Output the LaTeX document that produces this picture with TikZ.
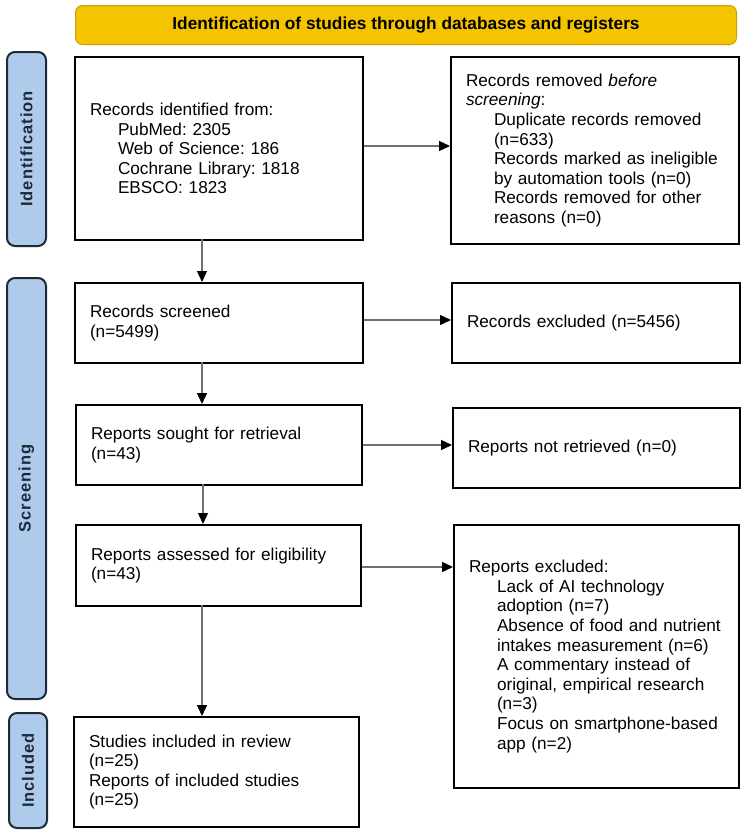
\documentclass[tikz,border=0pt]{standalone}
\usepackage{fontspec}
\setmainfont{Liberation Sans}
\usetikzlibrary{arrows.meta}
\definecolor{gold}{HTML}{F5C400}
\definecolor{goldline}{HTML}{C9A000}
\definecolor{sideblue}{HTML}{AFCBEB}
\definecolor{sideline}{HTML}{1C2A3A}
\definecolor{arrgray}{HTML}{707070}
\tikzset{
  box/.style={draw=black, line width=2pt, fill=white, anchor=north west, inner xsep=15pt, inner ysep=0pt,
    align=left, font=\fontsize{17.2}{19.6}\selectfont\frenchspacing},
  sidelab/.style={draw=sideline, line width=2pt, fill=sideblue, rounded corners=8pt, anchor=north west,
    inner sep=0pt},
  sidetxt/.style={rotate=90, text=sideline, font=\fontsize{16.5}{19}\selectfont\bfseries\addfontfeature{LetterSpace=6}},
  flow/.style={draw=arrgray, line width=1.3pt, -{Triangle[length=11pt,width=10pt,fill=black,color=black]}},
}
\newcommand{\subi}{\hspace*{28pt}}
\begin{document}
\begin{tikzpicture}[x=1pt,y=-1pt]
\useasboundingbox (0,0) rectangle (744,835);
% banner
\node[draw=goldline, line width=1pt, fill=gold, rounded corners=7pt, anchor=north west, minimum width=661pt, minimum height=39pt,
  inner sep=0pt, font=\fontsize{17.3}{19}\selectfont\bfseries] (banner) at (75,5) {Identification of studies through databases and registers};
% side labels
\node[sidelab, minimum width=39pt, minimum height=194pt] (sid) at (6,51) {};
\node[sidetxt] (sidt) at (sid.center) {Identification};
\node[sidelab, minimum width=39pt, minimum height=421pt] (sscr) at (6,277) {};
\node[sidetxt] (sscrt) at (sscr.center) {Screening};
\node[sidelab, minimum width=38pt, minimum height=115pt] (sinc) at (8,712) {};
\node[sidetxt] (sinct) at (sinc.center) {Included};
% left boxes
\node[box, minimum width=288pt, minimum height=183pt, text width=258pt] (ident) at (74,56) {Records identified from:\\
\subi PubMed: 2305\\
\subi Web of Science: 186\\
\subi Cochrane Library: 1818\\
\subi EBSCO: 1823};
\node[box, minimum width=288pt, minimum height=80pt, text width=258pt] (screen) at (74,282) {Records screened\\(n=5499)};
\node[box, minimum width=286pt, minimum height=80pt, text width=256pt] (sought) at (75,404) {Reports sought for retrieval\\(n=43)};
\node[box, minimum width=285pt, minimum height=81pt, text width=255pt] (assess) at (75,524) {Reports assessed for eligibility\\(n=43)};
\node[box, minimum width=285pt, minimum height=110pt, text width=255pt] (incl) at (73,716) {Studies included in review\\(n=25)\\Reports of included studies\\(n=25)};
% right boxes
\node[box, minimum width=288pt, minimum height=187pt, text width=258pt] (removed) at (450,56) {Records removed \textit{before}\\\textit{screening}:\\
\subi Duplicate records removed\\
\subi (n=633)\\
\subi Records marked as ineligible\\
\subi by automation tools (n=0)\\
\subi Records removed for other\\
\subi reasons (n=0)};
\node[box, minimum width=288pt, minimum height=80pt, text width=258pt] (excl) at (451,282) {Records excluded (n=5456)};
\node[box, minimum width=287pt, minimum height=80pt, text width=257pt] (notret) at (452,407) {Reports not retrieved (n=0)};
\node[box, minimum width=285pt, minimum height=263pt, text width=255pt] (repexcl) at (453,524) {Reports excluded:\\
\subi Lack of AI technology\\
\subi adoption (n=7)\\
\subi Absence of food and nutrient\\
\subi intakes measurement (n=6)\\
\subi A commentary instead of\\
\subi original, empirical research\\
\subi (n=3)\\
\subi Focus on smartphone-based\\
\subi app (n=2)};
% coordinates for vertical arrows
\coordinate (c1) at (202,239);
\coordinate (c2) at (202,282);
\coordinate (c3) at (202,362);
\coordinate (c4) at (202,404);
\coordinate (c5) at (203,484);
\coordinate (c6) at (203,524);
\coordinate (c7) at (202,605);
\coordinate (c8) at (202,716);
\draw[flow] (c1) -- (c2);
\draw[flow] (c3) -- (c4);
\draw[flow] (c5) -- (c6);
\draw[flow] (c7) -- (c8);
% horizontal arrows
\draw[flow] (ident.east |- 0,146) -- (removed.west |- 0,146);
\draw[flow] (screen.east |- 0,320) -- (excl.west |- 0,320);
\draw[flow] (sought.east |- 0,445) -- (notret.west |- 0,445);
\draw[flow] (assess.east |- 0,567) -- (repexcl.west |- 0,567);
\end{tikzpicture}
\end{document}
